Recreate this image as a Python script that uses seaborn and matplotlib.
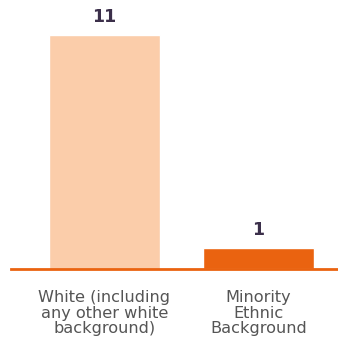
import matplotlib
matplotlib.use("Agg")
import matplotlib.pyplot as plt
import seaborn as sns
import pandas as pd

categories = ["White (including\nany other white\nbackground)", "Minority\nEthnic\nBackground"]
values = [11, 1]
colors = ["#FBCDAA", "#EA6310"]

sns.set_theme(style="white")
plt.rcParams['font.family'] = ['DejaVu Sans']

df = pd.DataFrame({"cat": categories, "val": values})

fig = plt.figure(figsize=(3.38, 3.42), dpi=100)
ax = fig.add_axes([11/338, 73/342, 327/338, 269/342])
sns.barplot(data=df, x="cat", y="val", hue="cat", palette=colors, width=0.72,
            legend=False, ax=ax, saturation=1)

for c in ax.containers:
    ax.bar_label(c, padding=6, fontsize=12.5, fontweight="bold", color="#3b2f4a")

ax.set_xlim(-0.607, 1.516)
ax.set_ylim(0, 12.62)
ax.set_xlabel("")
ax.set_ylabel("")
ax.set_yticks([])
for s in ["top", "left", "right"]:
    ax.spines[s].set_visible(False)
ax.spines["bottom"].set_color("#EA6310")
ax.spines["bottom"].set_linewidth(2)
ax.tick_params(axis="x", length=0, pad=15, labelsize=11.6, labelcolor="#555555")
for t in ax.get_xticklabels():
    t.set_linespacing(1.06)

fig.savefig("out.png", dpi=100)
